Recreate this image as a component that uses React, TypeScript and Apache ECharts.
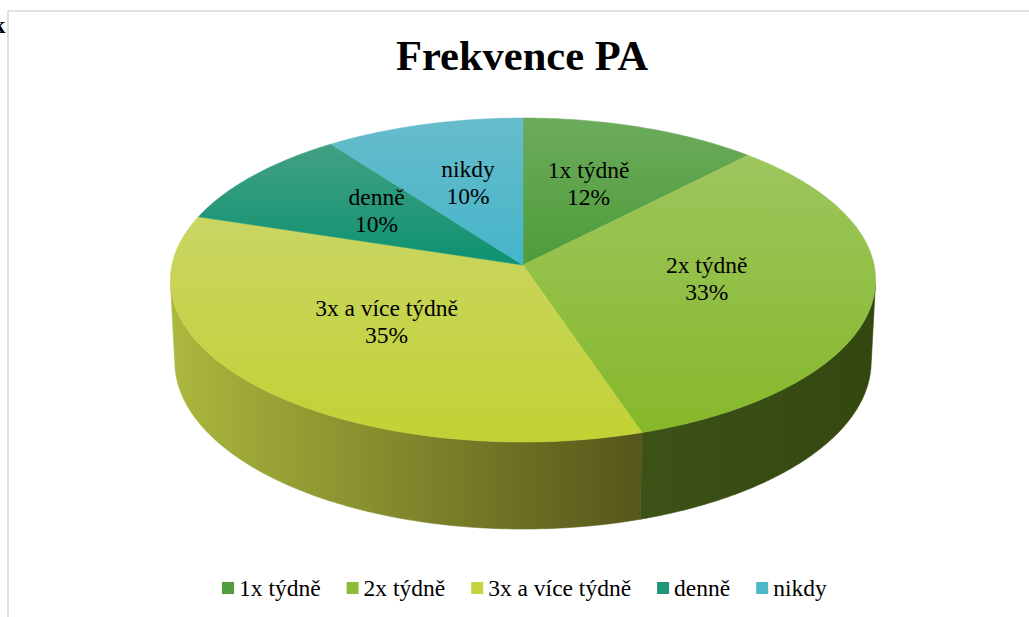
import React, { useEffect, useRef } from 'react';
import * as echarts from 'echarts';

// ---- data ----
const categories = ['1x týdně', '2x týdně', '3x a více týdně', 'denně', 'nikdy'];
const values = [12, 33, 35, 10, 10];
const titleText = 'Frekvence PA';

// ---- styles ----
const SERIF = 'Liberation Serif';
const legendColors = ['#4f9d3e', '#8cbc38', '#c5d43c', '#1f9579', '#4db8c9'];
const topColors = [
  ['#6cab5c', '#4f9c39'],
  ['#9dc65e', '#86b82a'],
  ['#c9d562', '#c2d234'],
  ['#43a084', '#0c9271'],
  ['#66bccb', '#45b5c9'],
];
const sideColors = [
  ['#3e6a2a', '#2f5a1e'],
  ['#3d5217', '#33470f'],
  ['#acb83d', '#55561a'],
  ['#1a6a54', '#0b5a44'],
  ['#2f8a98', '#237a88'],
];

// ---- 3D projection layout ----
const CX = 523;
const CY = 265;
const CAM_D = 9.6;
const FOCAL = 3370;
const SIN_E = 0.4575;
const COS_E = 0.889;
const DEPTH = 0.2637;
const LABEL_R = 0.53;
const LABEL_LIFT = 0.018;

function project(theta: number, r: number, h: number): number[] {
  const X = r * Math.sin(theta);
  const Z = -r * Math.cos(theta);
  const d = CAM_D - Z * COS_E - h * SIN_E;
  return [CX + (FOCAL * X) / d, CY + (FOCAL * (Z * SIN_E - h * COS_E)) / d];
}

const SIDE_LO = Math.acos(-1 / (CAM_D * COS_E));
const SIDE_HI = 2 * Math.PI - SIDE_LO;

function arc(a0: number, a1: number, h: number): number[][] {
  const steps = Math.max(2, Math.ceil(Math.abs(a1 - a0) / (Math.PI / 360)));
  const pts: number[][] = [];
  for (let j = 0; j <= steps; j++) {
    pts.push(project(a0 + ((a1 - a0) * j) / steps, 1, h));
  }
  return pts;
}

function grad(c: string[], horizontal: boolean) {
  return new echarts.graphic.LinearGradient(0, 0, horizontal ? 1 : 0, horizontal ? 0 : 1, [
    { offset: 0, color: c[0] },
    { offset: 1, color: c[1] },
  ]);
}

export default function App() {
  const ref = useRef<HTMLDivElement>(null);
  useEffect(() => {
    if (!ref.current) return;
    const chart = echarts.init(ref.current, undefined, { renderer: 'svg' });
    const total = values.reduce((a, b) => a + b, 0);

    const series = categories.map((name, i) => ({
      type: 'custom',
      name,
      coordinateSystem: 'none',
      color: legendColors[i],
      data: [values[i]],
      renderItem: (params: any, api: any) => {
        const idx = params.seriesIndex;
        let before = 0;
        for (let k = 0; k < idx; k++) before += values[k];
        const v = api.value(0);
        const a0 = (before / total) * Math.PI * 2;
        const a1 = ((before + v) / total) * Math.PI * 2;
        const children: any[] = [];
        const lo = Math.max(a0, SIDE_LO);
        const hi = Math.min(a1, SIDE_HI);
        if (hi > lo) {
          const pts = arc(lo, hi, 0).concat(arc(hi, lo, -DEPTH));
          const g = grad(sideColors[idx], true);
          children.push({
            type: 'polygon',
            z2: 1,
            shape: { points: pts },
            style: { fill: g, stroke: g, lineWidth: 0.6 },
          });
        }
        const topPts = [project(0, 0, 0)].concat(arc(a0, a1, 0));
        const tg = grad(topColors[idx], false);
        children.push({
          type: 'polygon',
          z2: 2,
          shape: { points: topPts },
          style: { fill: tg, stroke: tg, lineWidth: 0.6 },
        });
        const mid = (a0 + a1) / 2;
        const lp = project(mid, LABEL_R, LABEL_LIFT);
        children.push({
          type: 'text',
          z2: 3,
          x: lp[0],
          y: lp[1],
          style: {
            text: `${categories[idx]}\n${v}%`,
            fontSize: 23.5,
            fontFamily: SERIF,
            fill: '#000',
            align: 'center',
            verticalAlign: 'middle',
            lineHeight: 27,
          },
        });
        return { type: 'group', children };
      },
    }));

    chart.setOption({
      animation: false,
      backgroundColor: '#ffffff',
      title: {
        text: titleText,
        left: 391,
        top: 29,
        textStyle: {
          fontSize: 42.5,
          fontWeight: 'bold',
          fontFamily: SERIF,
          color: '#000',
        },
      },
      legend: {
        data: categories,
        bottom: 12,
        left: 217,
        icon: 'rect',
        itemWidth: 12,
        itemHeight: 12,
        itemGap: 26,
        textStyle: {
          fontSize: 23.5,
          fontFamily: SERIF,
          color: '#000',
        },
      },
      graphic: [
        {
          type: 'rect',
          shape: { x: 8, y: 11, width: 1100, height: 700 },
          style: { fill: 'none', stroke: '#dde3e0', lineWidth: 2 },
          silent: true,
        },
        {
          type: 'text',
          x: -8,
          y: 13,
          style: {
            text: 'k',
            fontSize: 24,
            fontWeight: 'bold',
            fontFamily: SERIF,
            fill: '#000',
          },
        },
      ],
      series,
    });
    return () => chart.dispose();
  }, []);
  return (
    <div
      ref={ref}
      style={{ position: 'fixed', left: 0, top: 0, width: 1029, height: 617 }}
    />
  );
}
